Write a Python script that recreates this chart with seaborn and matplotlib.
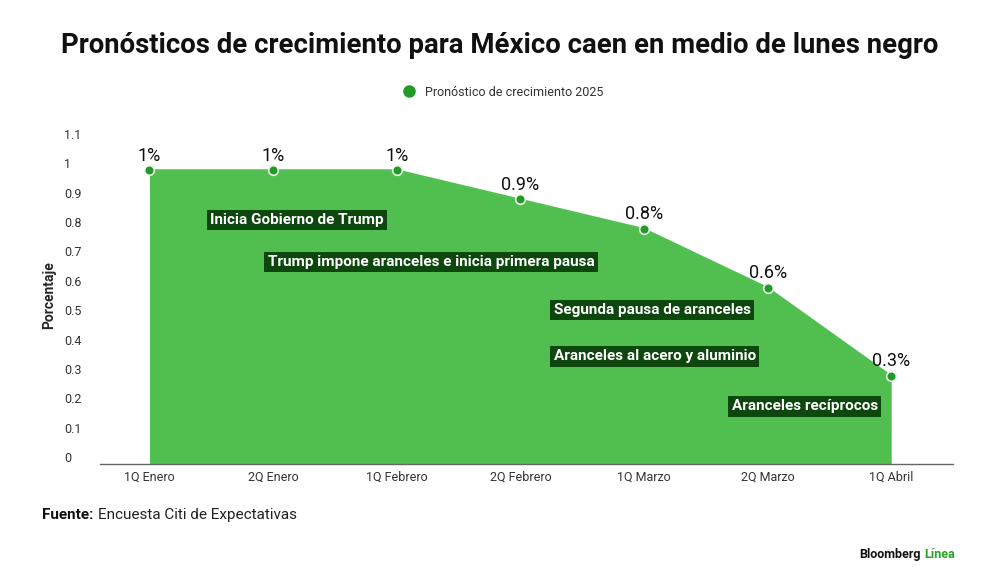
import matplotlib
matplotlib.use("Agg")
import matplotlib.pyplot as plt
import matplotlib.transforms as mtransforms
from matplotlib.lines import Line2D
import pandas as pd
import seaborn as sns

# data
periodos = ["1Q Enero", "2Q Enero", "1Q Febrero", "2Q Febrero", "1Q Marzo", "2Q Marzo", "1Q Abril"]
pronostico = [1.0, 1.0, 1.0, 0.9, 0.8, 0.6, 0.3]
eventos = [
    "Inicia Gobierno de Trump",
    "Trump impone aranceles e inicia primera pausa",
    "Segunda pausa de aranceles",
    "Aranceles al acero y aluminio",
    "Aranceles recíprocos",
]
y_ticks = [0, 0.1, 0.2, 0.3, 0.4, 0.5, 0.6, 0.7, 0.8, 0.9, 1, 1.1]
y_tick_labels = ["0", "0.1", "0.2", "0.3", "0.4", "0.5", "0.6", "0.7", "0.8", "0.9", "1", "1.1"]

# where the event boxes sit (left x, centre y) in data units
evento_pos = [(0.49, 0.83), (0.955, 0.687), (3.27, 0.524), (3.27, 0.367), (4.71, 0.197)]

FILL = "#50bf50"
DOT = "#24992a"
BOX = "#0d470d"

sns.set_theme(style="white")
plt.rcParams["font.family"] = ["Roboto", "DejaVu Sans"]

df = pd.DataFrame({"periodo": periodos, "valor": pronostico})
df["x"] = range(len(df))

fig = plt.figure(figsize=(10, 5.86), dpi=100)
ax = fig.add_axes([0.10, 0.208, 0.853, 0.577])

ax.fill_between(df["x"], df["valor"], 0, color=FILL, lw=0, zorder=1)
ax.plot(df["x"], df["valor"], color=FILL, lw=1.2, zorder=2)
sns.scatterplot(data=df, x="x", y="valor", ax=ax, color=DOT, s=48,
                edgecolor="#e8f5e8", linewidth=1.2, zorder=3, legend=False)

for xi, v in zip(df["x"], df["valor"]):
    ax.annotate(f"{v:g}%", (xi, v), xytext=(0, 4), textcoords="offset points",
                ha="center", va="bottom", fontsize=13, color="#111111", zorder=4)

for txt, (px, py) in zip(eventos, evento_pos):
    ax.text(px, py, txt, ha="left", va="center", fontsize=11, fontweight="bold",
            color="white", zorder=5,
            bbox=dict(boxstyle="square,pad=0.22", fc=BOX, ec="none"))

ax.set_xlim(-0.4, 6.5)
ax.set_ylim(0, 1.15)
ax.set_xticks(df["x"])
ax.set_xticklabels(periodos, fontsize=9, color="#333333")
ax.set_yticks(y_ticks)
ax.set_yticklabels(y_tick_labels, fontsize=9, color="#333333", ha="left")
ax.tick_params(axis="y", length=0, pad=26)
ax.tick_params(axis="x", length=0, pad=5)
shift = mtransforms.ScaledTranslation(0, 5 / 72, fig.dpi_scale_trans)
for lab in ax.get_yticklabels():
    lab.set_transform(lab.get_transform() + shift)

for side in ["top", "right", "left"]:
    ax.spines[side].set_visible(False)
ax.spines["bottom"].set_color("#666666")
ax.spines["bottom"].set_linewidth(1)
ax.set_xlabel("")
ax.set_ylabel("Porcentaje", fontsize=10, fontweight="bold")
ax.yaxis.set_label_coords(-0.052, 0.5)

fig.text(0.5, 0.922, "Pronósticos de crecimiento para México caen en medio de lunes negro",
         ha="center", va="center", fontsize=19.8, fontweight="bold", color="#111111")

handle = Line2D([], [], marker="o", ls="none", color=DOT, markersize=8)
fig.legend([handle], ["Pronóstico de crecimiento 2025"], loc="center",
           bbox_to_anchor=(0.5, 0.843), frameon=False, fontsize=9,
           handletextpad=0.3, labelcolor="#333333")

fuente = fig.text(0.042, 0.121, "Fuente:", ha="left", va="center", fontsize=11,
                  fontweight="bold", color="#111111")
ax.annotate("Encuesta Citi de Expectativas", xy=(1, 0.5), xycoords=fuente,
            xytext=(3, 0), textcoords="offset points", ha="left", va="center",
            fontsize=11, color="#222222", annotation_clip=False)

fig.text(0.921, 0.053, "Bloomberg", ha="right", va="center", fontsize=9,
         fontweight="bold", color="#111111")
fig.text(0.924, 0.053, "Línea", ha="left", va="center", fontsize=9,
         fontweight="bold", color="#2aa12a")

fig.savefig("out.png", dpi=100)
